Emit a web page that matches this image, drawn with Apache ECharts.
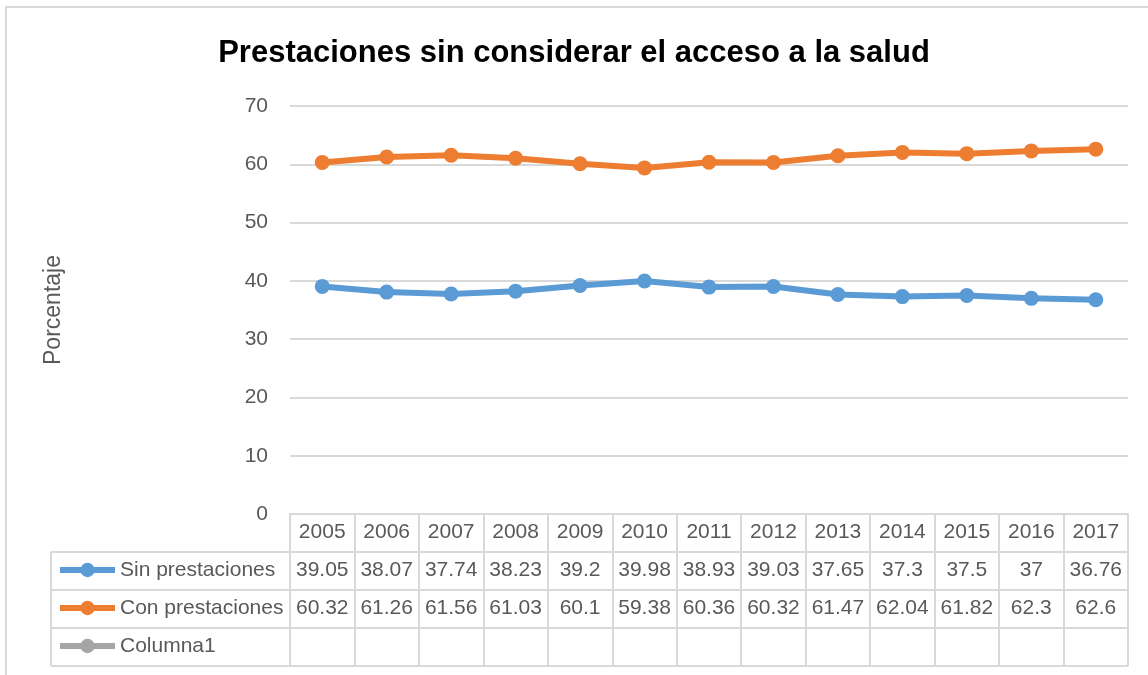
<!DOCTYPE html>
<html>
<head>
<meta charset="utf-8">
<script src="https://cdn.jsdelivr.net/npm/echarts@6/dist/echarts.min.js"></script>
<style>
  html, body { margin: 0; padding: 0; background: #fff; }
  #chart { width: 1148px; height: 675px; }
</style>
</head>
<body>
<div id="chart"></div>
<script>
// datos de la tabla
const years = ['2005', '2006', '2007', '2008', '2009', '2010', '2011', '2012', '2013', '2014', '2015', '2016', '2017'];
const sinPrestaciones = [39.05, 38.07, 37.74, 38.23, 39.2, 39.98, 38.93, 39.03, 37.65, 37.3, 37.5, 37, 36.76];
const conPrestaciones = [60.32, 61.26, 61.56, 61.03, 60.1, 59.38, 60.36, 60.32, 61.47, 62.04, 61.82, 62.3, 62.6];
const columna1 = years.map(() => null);

const FONT = 'Liberation Sans, Arial, sans-serif';
const TXT = '#595959';
const LINE = '#d9d9d9';

// layout de la tabla
const gridLeft = 290, gridRight = 1128, axisY = 514, rowH = 38, labelLeft = 51;
const tableBottom = axisY + rowH * 4;

const chart = echarts.init(document.getElementById('chart'), null, { renderer: 'canvas' });

const rowAxis = (values, offset) => ({
  type: 'category',
  data: years,
  position: 'bottom',
  offset: offset,
  axisLine: { show: false },
  axisTick: { show: false },
  axisLabel: {
    interval: 0,
    margin: 8,
    fontFamily: FONT,
    fontSize: 21,
    color: TXT,
    formatter: (v, i) => values[i] == null ? '' : String(values[i])
  }
});

const hLines = [];
for (let k = 1; k <= 4; k++) {
  hLines.push({
    type: 'line',
    shape: { x1: labelLeft, y1: axisY + rowH * k, x2: gridRight, y2: axisY + rowH * k },
    style: { stroke: LINE, lineWidth: 2 }
  });
}

chart.setOption({
  animation: false,
  title: {
    text: 'Prestaciones sin considerar el acceso a la salud',
    left: 'center',
    top: 33,
    textStyle: { fontFamily: FONT, fontSize: 31, fontWeight: 'bold', color: '#000' }
  },
  legend: {
    orient: 'vertical',
    left: 57,
    top: axisY + rowH + 7,
    padding: 0,
    itemWidth: 55,
    itemHeight: 18,
    itemGap: 16,
    lineStyle: { width: 6 },
    textStyle: { fontFamily: FONT, fontSize: 21, lineHeight: 22, color: TXT },
    data: ['Sin prestaciones', 'Con prestaciones', 'Columna1']
  },
  grid: { left: gridLeft, right: 1148 - gridRight, top: 106, bottom: 675 - axisY },
  xAxis: [
    {
      type: 'category',
      data: years,
      position: 'bottom',
      axisLine: { lineStyle: { color: LINE, width: 2 } },
      axisTick: { show: true, length: rowH * 4, lineStyle: { color: LINE, width: 2 } },
      axisLabel: { interval: 0, margin: 8, fontFamily: FONT, fontSize: 21, color: TXT }
    },
    rowAxis(sinPrestaciones, rowH),
    rowAxis(conPrestaciones, rowH * 2)
  ],
  yAxis: {
    type: 'value',
    min: 0,
    max: 70,
    interval: 10,
    name: 'Porcentaje',
    nameLocation: 'middle',
    nameGap: 225,
    nameTextStyle: { fontFamily: FONT, fontSize: 23, color: TXT },
    axisLine: { show: false },
    axisTick: { show: false },
    splitLine: { lineStyle: { color: LINE, width: 2 } },
    axisLabel: { margin: 22, fontFamily: FONT, fontSize: 21, color: TXT }
  },
  series: [
    {
      name: 'Sin prestaciones', type: 'line', data: sinPrestaciones,
      symbol: 'circle', symbolSize: 15,
      lineStyle: { width: 6, color: '#5b9bd5' }, itemStyle: { color: '#5b9bd5' }
    },
    {
      name: 'Con prestaciones', type: 'line', data: conPrestaciones,
      symbol: 'circle', symbolSize: 15,
      lineStyle: { width: 6, color: '#ed7d31' }, itemStyle: { color: '#ed7d31' }
    },
    {
      name: 'Columna1', type: 'line', data: columna1,
      symbol: 'circle', symbolSize: 15,
      lineStyle: { width: 6, color: '#a5a5a5' }, itemStyle: { color: '#a5a5a5' }
    }
  ],
  graphic: [
    {
      type: 'rect',
      shape: { x: 6, y: 7, width: 1160, height: 700 },
      style: { fill: null, stroke: LINE, lineWidth: 2 },
      silent: true
    },
    {
      type: 'line',
      shape: { x1: labelLeft, y1: axisY + rowH, x2: labelLeft, y2: tableBottom },
      style: { stroke: LINE, lineWidth: 2 }
    }
  ].concat(hLines)
});
</script>
</body>
</html>
